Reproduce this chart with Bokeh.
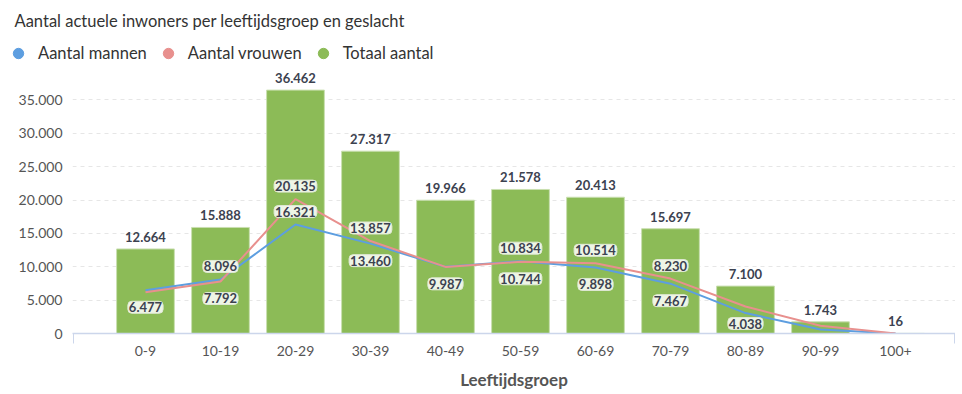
from bokeh.plotting import figure
from bokeh.models import (ColumnDataSource, FixedTicker, Range1d, Label, Legend, LegendItem,
                          CustomJSTickFormatter)
from bokeh.core.properties import value
from bokeh.embed import file_html
from bokeh.resources import INLINE

# ---------------- data ----------------
categories = ["0-9", "10-19", "20-29", "30-39", "40-49", "50-59", "60-69", "70-79", "80-89", "90-99", "100+"]
totaal = [12664, 15888, 36462, 27317, 19966, 21578, 20413, 15697, 7100, 1743, 16]
mannen = [6477, 8096, 16321, 13460, 9987, 10834, 9898, 7467, 3062, 590, 3]
vrouwen = [6187, 7792, 20135, 13857, 9979, 10744, 10514, 8230, 4038, 1153, 13]
y_ticks = [0, 5000, 10000, 15000, 20000, 25000, 30000, 35000]

# which series labels are visible (index, series, side)
shown_labels = [
    (0, "m", "below"),
    (1, "m", "above"), (1, "v", "below"),
    (2, "v", "above"), (2, "m", "above"),
    (3, "v", "above"), (3, "m", "below"),
    (4, "m", "below"),
    (5, "m", "above"), (5, "v", "below"),
    (6, "v", "above"), (6, "m", "below"),
    (7, "v", "above"), (7, "m", "below"),
    (8, "v", "below"),
]

# ---------------- styles ----------------
FONT = "Lato"
GREEN = "#8cbb57"
BLUE = "#5d9ee0"
RED = "#e8908e"
TXT = "#3c4250"

TOP_H = 66
FRAME_LEFT = 72
FRAME_W = 883
W = FRAME_LEFT + FRAME_W
FRAME_H = 267
Y_END = 40000
per_px = Y_END / FRAME_H
x_start, x_end = -0.973, 10.8


def fmt(v):
    return f"{v:,}".replace(",", ".")


# ---------------- header (title + legend), separate root ----------------
top = figure(width=W, height=TOP_H, output_backend="svg", toolbar_location=None,
             x_range=Range1d(0, W), y_range=Range1d(0, TOP_H),
             x_axis_location=None, y_axis_location=None,
             min_border=0, min_border_left=0, min_border_right=0,
             min_border_top=0, min_border_bottom=0, outline_line_color=None)
top.grid.visible = False
top.add_layout(Label(x=14, y=TOP_H - 20, text="Aantal actuele inwoners per leeftijdsgroep en geslacht",
                     text_font=FONT, text_font_size="16.5px", text_color="#333333",
                     text_baseline="middle", text_align="left"))
rm = top.scatter(x=[-100], y=[-100], marker="circle", fill_color=BLUE, line_color=BLUE)
rv = top.scatter(x=[-100], y=[-100], marker="circle", fill_color=RED, line_color=RED)
rt = top.scatter(x=[-100], y=[-100], marker="circle", fill_color=GREEN, line_color=GREEN)
legend = Legend(items=[LegendItem(label="Aantal mannen", renderers=[rm]),
                       LegendItem(label="Aantal vrouwen", renderers=[rv]),
                       LegendItem(label="Totaal aantal", renderers=[rt])],
                orientation="horizontal", location=(5, 0),
                glyph_width=26, glyph_height=26, label_standoff=7, spacing=8,
                padding=0, margin=0, border_line_color=None, background_fill_alpha=0,
                label_text_font=FONT, label_text_font_size="16.5px", label_text_color="#333333")
top.add_layout(legend, "center")

# ---------------- main chart ----------------
p = figure(frame_width=FRAME_W, frame_height=FRAME_H, output_backend="svg", toolbar_location=None,
           x_range=Range1d(x_start, x_end), y_range=Range1d(0, Y_END),
           min_border_left=FRAME_LEFT, min_border_right=0, min_border_top=0,
           min_border_bottom=0)
p.outline_line_color = None

xs = list(range(len(categories)))
src = ColumnDataSource(dict(x=xs, cat=categories, tot=totaal, m=mannen, v=vrouwen,
                            tot_lbl=[fmt(t) for t in totaal],
                            tot_y=[t + 12 * per_px for t in totaal]))

p.xgrid.visible = False
p.ygrid.ticker = FixedTicker(ticks=y_ticks)
p.ygrid.grid_line_color = "#e6e6e6"
p.ygrid.grid_line_dash = "4 4"
p.ygrid.grid_line_width = 1

p.vbar(x="x", top="tot", width=0.77, source=src, fill_color=GREEN,
       line_color="#c9dfb0", line_width=1)

p.line(x="x", y="m", source=src, line_color=BLUE, line_width=2)
p.line(x="x", y="v", source=src, line_color=RED, line_width=2)

p.text(x="x", y="tot_y", text="tot_lbl", source=src, text_font=value(FONT),
       text_font_style="bold", text_font_size="13px", text_color=TXT,
       text_align="center", text_baseline="middle")

lx, ly, lt = [], [], []
for i, s, side in shown_labels:
    val = mannen[i] if s == "m" else vrouwen[i]
    off = -13 if side == "above" else 17
    lx.append(i)
    ly.append(val - off * per_px)
    lt.append(fmt(val))
lsrc = ColumnDataSource(dict(x=lx, y=ly, t=lt))
p.text(x="x", y="y", text="t", source=lsrc, text_font=value(FONT),
       text_font_style="bold", text_font_size="13px", text_color=TXT,
       background_fill_color="white", background_fill_alpha=0.85,
       border_line_color="#dfe8d4", border_line_width=1,
       padding=1, border_radius=4,
       text_align="center", text_baseline="middle")

p.yaxis.ticker = FixedTicker(ticks=y_ticks)
p.yaxis.formatter = CustomJSTickFormatter(code="return tick == 0 ? '0' : tick.toLocaleString('de-DE')")
p.yaxis.axis_line_color = None
p.yaxis.major_tick_line_color = None
p.yaxis.minor_tick_line_color = None
p.yaxis.major_tick_out = 0
p.yaxis.major_tick_in = 0
p.yaxis.minor_tick_out = 0
p.yaxis.major_label_text_font = FONT
p.yaxis.major_label_text_font_size = "14px"
p.yaxis.major_label_text_color = "#555555"
p.yaxis.major_label_standoff = 10

p.xaxis.ticker = FixedTicker(ticks=xs, minor_ticks=[x_start + 0.01, x_end - 0.01])
p.xaxis.major_label_overrides = {i: c for i, c in enumerate(categories)}
p.xaxis.axis_line_color = "#ccd6eb"
p.xaxis.axis_line_width = 1.5
p.xaxis.major_tick_line_color = None
p.xaxis.major_tick_out = 0
p.xaxis.major_tick_in = 0
p.xaxis.minor_tick_line_color = "#ccd6eb"
p.xaxis.minor_tick_out = 10
p.xaxis.minor_tick_in = 0
p.xaxis.major_label_text_font = FONT
p.xaxis.major_label_text_font_size = "14px"
p.xaxis.major_label_text_color = "#555555"
p.xaxis.major_label_standoff = 2
p.xaxis.axis_label = "Leeftijdsgroep"
p.xaxis.axis_label_text_font = FONT
p.xaxis.axis_label_text_font_size = "17px"
p.xaxis.axis_label_text_font_style = "bold"
p.xaxis.axis_label_text_color = "#555555"
p.xaxis.axis_label_standoff = 10

open("out.html", "w").write(file_html([top, p], INLINE))
